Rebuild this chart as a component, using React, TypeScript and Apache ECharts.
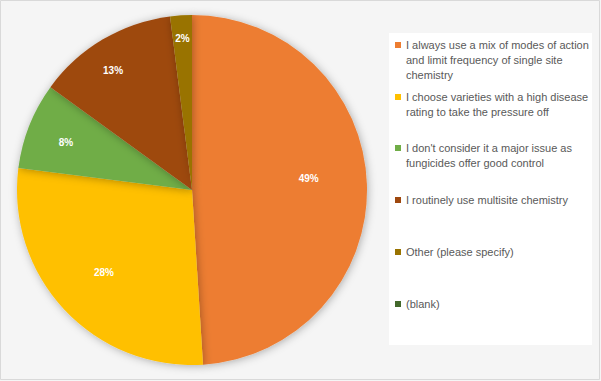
import React, { useEffect, useRef } from "react";
import * as echarts from "echarts";

const categories = [
  "I always use a mix of modes of action and limit frequency of single site chemistry",
  "I choose varieties with a high disease rating to take the pressure off",
  "I don't consider it a major issue as fungicides offer good control",
  "I routinely use multisite chemistry",
  "Other (please specify)",
  "(blank)",
];
const values = [49, 28, 8, 13, 2, 0];
const legendLines = [
  ["I always use a mix of modes of action", "and limit frequency of single site", "chemistry"],
  ["I choose varieties with a high disease", "rating to take the pressure off"],
  ["I don't consider it a major issue as", "fungicides offer good control"],
  ["I routinely use multisite chemistry"],
  ["Other (please specify)"],
  ["(blank)"],
];
const colors = ["#ED7D31", "#FFC000", "#70AD47", "#9E480E", "#997300", "#43682B"];

const CX = 192;
const CY = 190;
const R = 175;
const labelRadiusFrac = [0.67, 0.69, 0.77, 0.82, 0.87, 0.8];
const labelAngleShift = [-4, 0, -1, -2.8, 0, 0];
const legendFirstLineY = [45, 97, 148, 200, 252, 304];
const LINE_H = 15;

export default function App() {
  const ref = useRef<HTMLDivElement>(null);
  useEffect(() => {
    document.body.style.margin = "0";
    const chart = echarts.init(ref.current!, null, { renderer: "svg" });
    const total = values.reduce((a, b) => a + b, 0);
    const midAngles: number[] = [];
    let acc = 0;
    values.forEach((v) => {
      midAngles.push(((acc + v / 2) / total) * 360);
      acc += v;
    });

    const legends = categories.map((name, i) => {
      const n = legendLines[i].length;
      const half = (LINE_H * (2 * n - 1)) / 2;
      const text = new Array(n - 1).fill("").concat(legendLines[i]).join("\n");
      return {
        show: true,
        orient: "vertical",
        left: 395,
        top: legendFirstLineY[i] - half,
        padding: 0,
        itemWidth: 6,
        itemHeight: 6,
        icon: "rect",
        data: [name],
        selectedMode: false,
        formatter: () => text,
        textStyle: {
          fontFamily: "Liberation Sans",
          fontSize: 11,
          color: "#595959",
          lineHeight: LINE_H,
        },
      };
    });

    chart.setOption({
      animation: false,
      backgroundColor: "#f5f5f5",
      color: colors,
      graphic: [
        {
          type: "rect",
          shape: { x: 389, y: 33, width: 203, height: 312 },
          style: { fill: "#ffffff" },
          z: -10,
        },
        {
          type: "rect",
          shape: { x: 0.5, y: 0.5, width: 599, height: 379 },
          style: { fill: "none", stroke: "#d9d9d9", lineWidth: 1 },
          z: -10,
        },
      ],
      legend: legends,
      series: [
        {
          type: "pie",
          center: [CX, CY],
          radius: [0, R],
          startAngle: 90,
          clockwise: true,
          avoidLabelOverlap: false,
          itemStyle: {
            borderWidth: 0,
            shadowBlur: 8,
            shadowColor: "rgba(0,0,0,0.3)",
            shadowOffsetX: 1,
            shadowOffsetY: 1,
          },
          label: {
            show: true,
            position: "inside",
            color: "#ffffff",
            fontFamily: "Liberation Sans",
            fontWeight: "bold",
            fontSize: 10,
            formatter: (p: any) => (p.value > 0 ? Math.round(p.percent) + "%" : ""),
          },
          labelLine: { show: false },
          labelLayout: (params: any) => {
            const i = params.dataIndex;
            const a = ((midAngles[i] + labelAngleShift[i]) * Math.PI) / 180;
            const r = labelRadiusFrac[i] * R;
            return {
              x: CX + r * Math.sin(a),
              y: CY - r * Math.cos(a),
              align: "center",
              verticalAlign: "middle",
            };
          },
          data: categories.map((name, i) => ({ name, value: values[i] })),
        },
      ],
    });
    return () => chart.dispose();
  }, []);
  return <div ref={ref} style={{ width: 601, height: 381 }} />;
}
